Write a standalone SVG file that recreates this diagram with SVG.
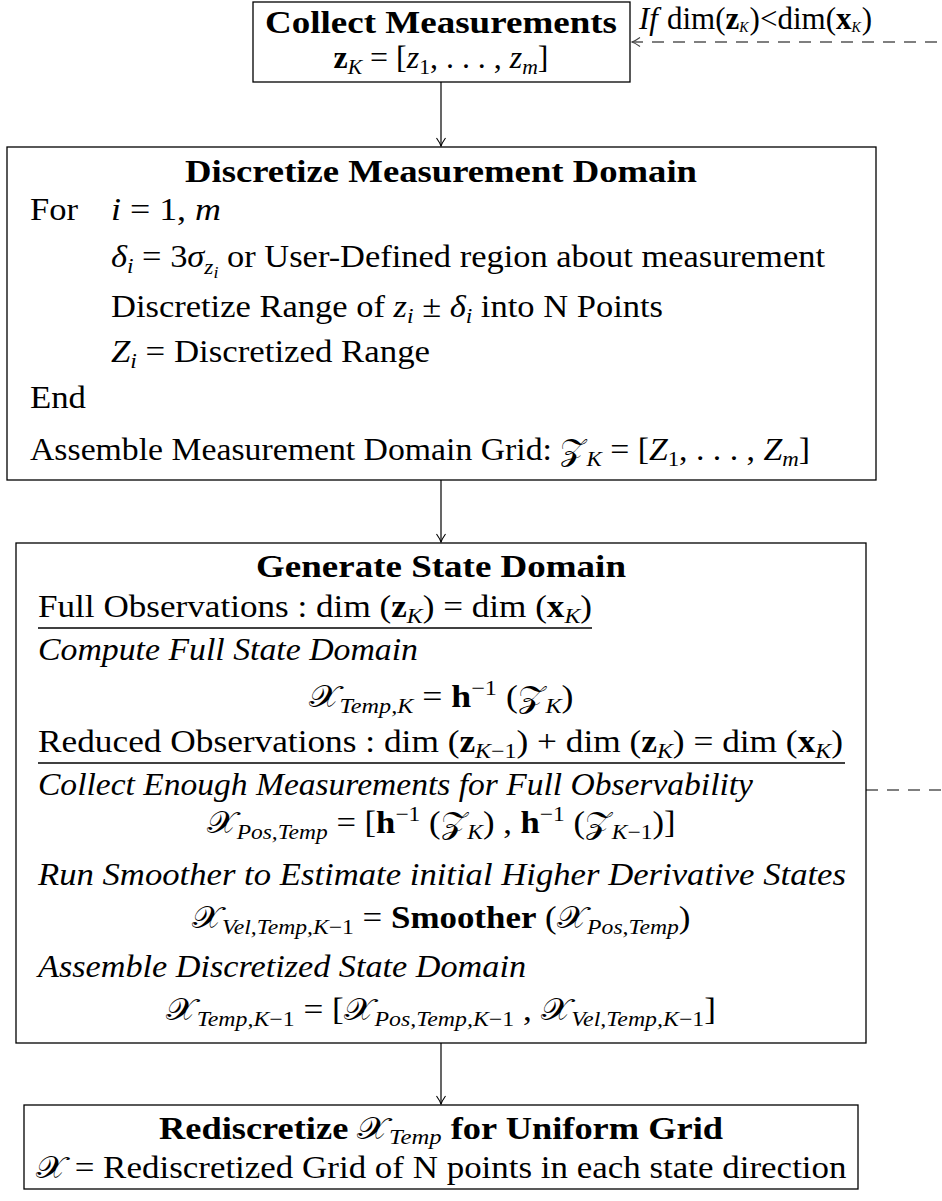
<svg xmlns="http://www.w3.org/2000/svg" width="942" height="1201" viewBox="0 0 942 1201">
<style>
.t{font-family:"Liberation Serif","Times New Roman",serif;font-size:31px;fill:#000}
.b{font-weight:bold}
.i{font-style:italic}
.s{font-size:21px}
.ss{font-size:16px}
.box{fill:#fff;stroke:#000;stroke-width:1.3}
.conn{fill:none;stroke:#000;stroke-width:1.2}
.dash{fill:none;stroke:#555;stroke-width:1.6;stroke-dasharray:12 9}
.ul{stroke:#000;stroke-width:1.3}
</style>
<defs>
<marker id="ah" viewBox="-9 -6 11 12" refX="0" refY="0" markerWidth="11" markerHeight="12" markerUnits="userSpaceOnUse" orient="auto">
<path d="M-8,-4.5 Q-3,-1 0,0 Q-3,1 -8,4.5" fill="none" stroke="#000" stroke-width="1.1"/>
</marker>
<marker id="ahg" viewBox="-9 -6 11 12" refX="0" refY="0" markerWidth="11" markerHeight="12" markerUnits="userSpaceOnUse" orient="auto">
<path d="M-8,-4.5 Q-3,-1 0,0 Q-3,1 -8,4.5" fill="none" stroke="#444" stroke-width="1.1"/>
</marker>
</defs>

<g id="connectors">
<line class="conn" x1="441" y1="82" x2="441" y2="146" marker-end="url(#ah)"/>
<line class="conn" x1="441" y1="480" x2="441" y2="542" marker-end="url(#ah)"/>
<line class="conn" x1="441" y1="1043" x2="441" y2="1104" marker-end="url(#ah)"/>
<path class="dash" d="M866,790 H1000 V42 H632" marker-end="url(#ahg)"/>
<text class="t" font-size="19" x="639" y="29"><tspan class="i">If</tspan><tspan dx="9">dim(</tspan><tspan class="b">z</tspan><tspan class="i" font-size="14" dy="3">K</tspan><tspan dx="1" dy="-3">)&lt;dim(</tspan><tspan class="b">x</tspan><tspan class="i" font-size="14" dy="3">K</tspan><tspan dx="1" dy="-3">)</tspan></text>
</g>

<g id="collect">
<rect class="box" x="253" y="2" width="377" height="80"/>
<text class="t b" x="441" y="33" text-anchor="middle" textLength="352" lengthAdjust="spacingAndGlyphs">Collect Measurements</text>
<text class="t" x="441" y="68" text-anchor="middle" textLength="215" lengthAdjust="spacingAndGlyphs"><tspan class="b">z</tspan><tspan class="i s" dy="6">K</tspan><tspan dy="-6"> = [</tspan><tspan class="i">z</tspan><tspan class="s" dy="6">1</tspan><tspan dy="-6">, . . . , </tspan><tspan class="i">z</tspan><tspan class="i s" dy="6">m</tspan><tspan dy="-6">]</tspan></text>
</g>

<g id="discretize">
<rect class="box" x="7" y="147" width="869" height="333"/>
<text class="t b" x="441" y="182" text-anchor="middle" textLength="512" lengthAdjust="spacingAndGlyphs">Discretize Measurement Domain</text>
<text class="t" x="30" y="220" textLength="48" lengthAdjust="spacingAndGlyphs">For</text>
<text class="t" x="111" y="220" textLength="110" lengthAdjust="spacingAndGlyphs"><tspan class="i">i</tspan> = 1, <tspan class="i">m</tspan></text>
<text class="t" x="111" y="267" textLength="714" lengthAdjust="spacingAndGlyphs"><tspan class="i">δ</tspan><tspan class="i s" dy="6">i</tspan><tspan dy="-6"> = 3</tspan><tspan class="i">σ</tspan><tspan class="i s" dy="7">z</tspan><tspan class="i ss" dy="4">i</tspan><tspan dy="-11"> or User-Defined region about measurement</tspan></text>
<text class="t" x="111" y="317" textLength="552" lengthAdjust="spacingAndGlyphs">Discretize Range of <tspan class="i">z</tspan><tspan class="i s" dy="6">i</tspan><tspan dy="-6"> ± </tspan><tspan class="i">δ</tspan><tspan class="i s" dy="6">i</tspan><tspan dy="-6"> into N Points</tspan></text>
<text class="t" x="111" y="362" textLength="319" lengthAdjust="spacingAndGlyphs"><tspan class="i">Z</tspan><tspan class="i s" dy="6">i</tspan><tspan dy="-6"> = Discretized Range</tspan></text>
<text class="t" x="30" y="408" textLength="56" lengthAdjust="spacingAndGlyphs">End</text>
<text class="t" x="30" y="460" textLength="780" lengthAdjust="spacingAndGlyphs">Assemble Measurement Domain Grid: 𝒵<tspan class="i s" dy="6">K</tspan><tspan dy="-6"> = [</tspan><tspan class="i">Z</tspan><tspan class="s" dy="6">1</tspan><tspan dy="-6">, . . . , </tspan><tspan class="i">Z</tspan><tspan class="i s" dy="6">m</tspan><tspan dy="-6">]</tspan></text>
</g>

<g id="generate">
<rect class="box" x="16" y="543" width="850" height="500"/>
<text class="t b" x="441" y="577" text-anchor="middle" textLength="370" lengthAdjust="spacingAndGlyphs">Generate State Domain</text>
<text class="t" x="38" y="617" textLength="554" lengthAdjust="spacingAndGlyphs">Full Observations : dim (<tspan class="b">z</tspan><tspan class="i s" dy="6">K</tspan><tspan dy="-6">) = dim (</tspan><tspan class="b">x</tspan><tspan class="i s" dy="6">K</tspan><tspan dy="-6">)</tspan></text>
<line class="ul" x1="38" y1="628" x2="592" y2="628"/>
<text class="t i" x="38" y="660" textLength="380" lengthAdjust="spacingAndGlyphs">Compute Full State Domain</text>
<text class="t" x="441" y="707" text-anchor="middle" textLength="265" lengthAdjust="spacingAndGlyphs">𝒳<tspan class="i s" dy="6">Temp,K</tspan><tspan dy="-6"> = </tspan><tspan class="b">h</tspan><tspan class="s" dy="-12">−1</tspan><tspan dy="12"> (𝒵</tspan><tspan class="i s" dy="6">K</tspan><tspan dy="-6">)</tspan></text>
<text class="t" x="38" y="752" textLength="805" lengthAdjust="spacingAndGlyphs">Reduced Observations : dim (<tspan class="b">z</tspan><tspan class="i s" dy="6">K</tspan><tspan class="s">−1</tspan><tspan dy="-6">) + dim (</tspan><tspan class="b">z</tspan><tspan class="i s" dy="6">K</tspan><tspan dy="-6">) = dim (</tspan><tspan class="b">x</tspan><tspan class="i s" dy="6">K</tspan><tspan dy="-6">)</tspan></text>
<line class="ul" x1="38" y1="763" x2="845" y2="763"/>
<text class="t i" x="38" y="795" textLength="715" lengthAdjust="spacingAndGlyphs">Collect Enough Measurements for Full Observability</text>
<text class="t" x="441" y="833" text-anchor="middle" textLength="469" lengthAdjust="spacingAndGlyphs">𝒳<tspan class="i s" dy="6">Pos,Temp</tspan><tspan dy="-6"> = [</tspan><tspan class="b">h</tspan><tspan class="s" dy="-12">−1</tspan><tspan dy="12"> (𝒵</tspan><tspan class="i s" dy="6">K</tspan><tspan dy="-6">)  ,  </tspan><tspan class="b">h</tspan><tspan class="s" dy="-12">−1</tspan><tspan dy="12"> (𝒵</tspan><tspan class="i s" dy="6">K</tspan><tspan class="s">−1</tspan><tspan dy="-6">)]</tspan></text>
<text class="t i" x="38" y="885" textLength="808" lengthAdjust="spacingAndGlyphs">Run Smoother to Estimate initial Higher Derivative States</text>
<text class="t" x="441" y="928" text-anchor="middle" textLength="499" lengthAdjust="spacingAndGlyphs">𝒳<tspan class="i s" dy="6">Vel,Temp,K</tspan><tspan class="s">−1</tspan><tspan dy="-6"> = </tspan><tspan class="b">Smoother</tspan><tspan> (𝒳</tspan><tspan class="i s" dy="6">Pos,Temp</tspan><tspan dy="-6">)</tspan></text>
<text class="t i" x="38" y="977" textLength="488" lengthAdjust="spacingAndGlyphs">Assemble Discretized State Domain</text>
<text class="t" x="441" y="1020" text-anchor="middle" textLength="550" lengthAdjust="spacingAndGlyphs">𝒳<tspan class="i s" dy="6">Temp,K</tspan><tspan class="s">−1</tspan><tspan dy="-6"> = [𝒳</tspan><tspan class="i s" dy="6">Pos,Temp,K</tspan><tspan class="s">−1</tspan><tspan dy="-6"> ,  𝒳</tspan><tspan class="i s" dy="6">Vel,Temp,K</tspan><tspan class="s">−1</tspan><tspan dy="-6">]</tspan></text>
</g>

<g id="rediscretize">
<rect class="box" x="24" y="1105" width="834" height="84"/>
<text class="t b" x="441" y="1139" text-anchor="middle" textLength="564" lengthAdjust="spacingAndGlyphs">Rediscretize <tspan font-weight="normal">𝒳</tspan><tspan class="i s" font-weight="normal" dy="5">Temp</tspan><tspan dy="-5"> for Uniform Grid</tspan></text>
<text class="t" x="441" y="1178" text-anchor="middle" textLength="811" lengthAdjust="spacingAndGlyphs">𝒳 =  Rediscretized Grid of N points in each state direction</text>
</g>
</svg>
